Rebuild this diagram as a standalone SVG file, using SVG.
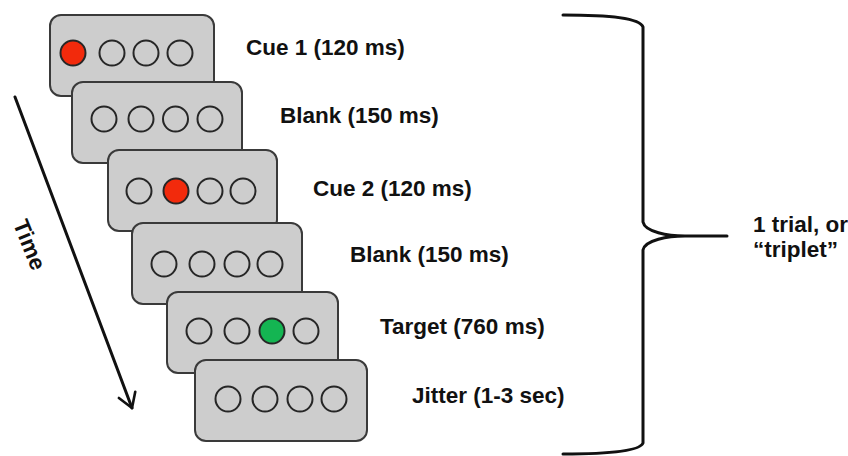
<svg xmlns="http://www.w3.org/2000/svg" width="848" height="456" viewBox="0 0 848 456">
<style>
.box{fill:#cdcdcd;stroke:#3a3a3a;stroke-width:2}
.c{fill:none;stroke:#262626;stroke-width:2}
.red{fill:#f22a0c}
.green{fill:#14b552}
.lbl{font-family:"Liberation Sans",Arial,sans-serif;font-weight:bold;font-size:22.5px;fill:#111}
.ln{fill:none;stroke:#111;stroke-width:3;stroke-linecap:round;stroke-linejoin:round}
</style>
<defs>
<marker id="ah" viewBox="0 0 12 12" refX="10" refY="6" markerWidth="7" markerHeight="7" orient="auto" markerUnits="strokeWidth">
<path d="M2,1 L10,6 L2,11" fill="none" stroke="#111" stroke-width="1.5" stroke-linecap="round" stroke-linejoin="round"/>
</marker>
</defs>
<rect width="848" height="456" fill="#fff"/>

<g id="frame1">
<rect class="box" x="50" y="15" width="164" height="81" rx="11"/>
<circle class="c red" cx="73" cy="53" r="12.5"/>
<circle class="c" cx="112" cy="53" r="12.5"/>
<circle class="c" cx="146" cy="53" r="12.5"/>
<circle class="c" cx="180" cy="53" r="12.5"/>
</g>
<g id="frame2">
<rect class="box" x="72" y="82" width="170" height="81" rx="11"/>
<circle class="c" cx="104" cy="119" r="12.5"/>
<circle class="c" cx="141" cy="119" r="12.5"/>
<circle class="c" cx="175.5" cy="119" r="12.5"/>
<circle class="c" cx="210" cy="119" r="12.5"/>
</g>
<g id="frame3">
<rect class="box" x="108" y="150" width="169" height="81" rx="11"/>
<circle class="c" cx="139" cy="191" r="12.5"/>
<circle class="c red" cx="176" cy="191" r="12.5"/>
<circle class="c" cx="210" cy="191" r="12.5"/>
<circle class="c" cx="243" cy="191" r="12.5"/>
</g>
<g id="frame4">
<rect class="box" x="132" y="223" width="170" height="81" rx="11"/>
<circle class="c" cx="164" cy="264" r="12.5"/>
<circle class="c" cx="202" cy="264" r="12.5"/>
<circle class="c" cx="237" cy="264" r="12.5"/>
<circle class="c" cx="270" cy="264" r="12.5"/>
</g>
<g id="frame5">
<rect class="box" x="167" y="292" width="171" height="81" rx="11"/>
<circle class="c" cx="199" cy="331" r="12.5"/>
<circle class="c" cx="237" cy="331" r="12.5"/>
<circle class="c green" cx="272" cy="331" r="12.5"/>
<circle class="c" cx="306" cy="331" r="12.5"/>
</g>
<g id="frame6">
<rect class="box" x="195" y="360" width="172" height="81" rx="11"/>
<circle class="c" cx="228" cy="399" r="12.5"/>
<circle class="c" cx="265" cy="399" r="12.5"/>
<circle class="c" cx="300" cy="399" r="12.5"/>
<circle class="c" cx="334" cy="399" r="12.5"/>
</g>

<g id="labels">
<text class="lbl" x="246" y="55">Cue 1 (120 ms)</text>
<text class="lbl" x="280" y="123">Blank (150 ms)</text>
<text class="lbl" x="313" y="196">Cue 2 (120 ms)</text>
<text class="lbl" x="350" y="262">Blank (150 ms)</text>
<text class="lbl" x="380" y="334">Target (760 ms)</text>
<text class="lbl" x="412" y="403">Jitter (1-3 sec)</text>
</g>

<g id="time">
<text class="lbl" font-size="21" text-anchor="middle" transform="translate(29,245) rotate(68)" dy="7">Time</text>
</g>

<g id="connectors">
<line class="ln" x1="15" y1="97" x2="132" y2="408" marker-end="url(#ah)"/>
<path class="ln" d="M563,15 C610,15 640,18 643,27 L643,222 C645,232 668,236 685,236 L727,236 M685,236 C668,236 645,240 643,250 L643,443 C640,451 610,454 563,454"/>
</g>

<g id="trial">
<text class="lbl" font-size="20" x="753" y="232">1 trial, or</text>
<text class="lbl" font-size="20" x="753" y="257">“triplet”</text>
</g>
</svg>
